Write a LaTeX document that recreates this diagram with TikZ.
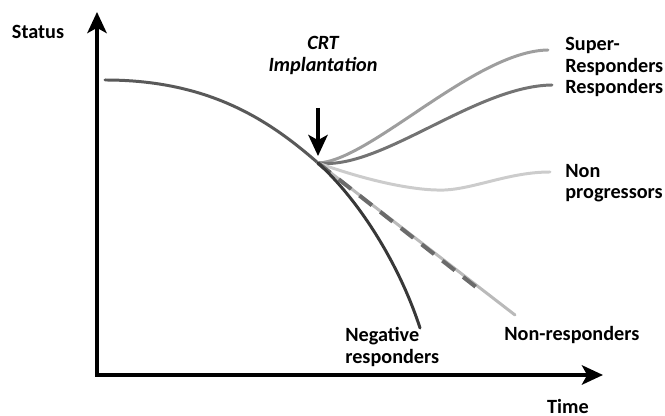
\documentclass[tikz,border=0pt]{standalone}
\usepackage{fontspec}
\setmainfont{Carlito}
\usetikzlibrary{arrows.meta}

\begin{document}
\begin{tikzpicture}[x=1cm,y=1cm,
    lbl/.style={font=\bfseries\fontsize{11.5}{12}\selectfont,inner sep=0pt,align=left},
    curve/.style={line width=1.7pt,line cap=round}]
  \useasboundingbox (0,0) rectangle (13.3,8.32);

  % axele
  \coordinate (O) at (1.94,0.82);
  \coordinate (Ytip) at (1.94,8.08);
  \coordinate (Xtip) at (12.06,0.82);
  \draw[line width=2.2pt,-{Stealth[length=12pt,width=11pt,inset=3pt]}] (O) -- (Ytip);
  \draw[line width=2.2pt,-{Stealth[length=12pt,width=11pt,inset=3pt]}] (1.9,0.82) -- (Xtip);
  \node[lbl] (status) at (0.76,7.68) {Status};
  \node[lbl] (time) at (11.36,0.2) {Time};

  % definirea punctelor
  \coordinate (S) at (2.1,6.72);
  \coordinate (J) at (6.36,5.06);
  \coordinate (Esup) at (10.96,7.32);
  \coordinate (Eres) at (11.04,6.62);
  \coordinate (Enon) at (11.0,4.88);
  \coordinate (Enr) at (10.3,2.02);
  \coordinate (Edash) at (9.62,2.5);
  \coordinate (Eneg) at (8.4,1.76);

  % curba principala
  \draw[curve,color=black!65] (S) .. controls (4.2,6.72) and (5.4,5.9) .. (J);

  % ramurile
  \draw[curve,color=black!38] (J) .. controls (7.4,5.1) and (9.5,7.3) .. (Esup);
  \draw[curve,color=black!55] (J) .. controls (7.6,4.9) and (9.5,6.6) .. (Eres);
  \draw[curve,color=black!20] (J) .. controls (7.5,4.65) and (8.4,4.5) .. (8.9,4.52)
                              .. controls (9.5,4.55) and (10.2,4.88) .. (Enon);
  \draw[curve,color=black!27] (J) -- (Enr);
  \draw[line width=2.3pt,color=black!58,dash pattern=on 9pt off 6pt] (J) -- (Edash);
  \draw[curve,color=black!78] (J) .. controls (7.2,4.3) and (8.0,3.0) .. (Eneg);

  % sageata CRT
  \node[lbl,font=\bfseries\itshape\fontsize{11.5}{12}\selectfont,align=center] (crt) at (6.46,7.21) {CRT\\Implantation};
  \coordinate (Atop) at (6.36,6.16);
  \coordinate (Abot) at (6.36,5.2);
  \draw[line width=2pt,-{Stealth[length=12pt,width=11pt,inset=3pt]}] (Atop) -- (Abot);

  % etichete
  \node[lbl,anchor=west] (sup) at (11.3,7.19) {Super-\\Responders};
  \node[lbl,anchor=west] (res) at (11.3,6.56) {Responders};
  \node[lbl,anchor=west] (non) at (11.3,4.66) {Non\\progressors};
  \node[lbl,anchor=west] (nr) at (10.08,1.62) {Non-responders};
  \node[lbl,anchor=west] (neg) at (6.9,1.38) {Negative\\responders};
\end{tikzpicture}
\end{document}
